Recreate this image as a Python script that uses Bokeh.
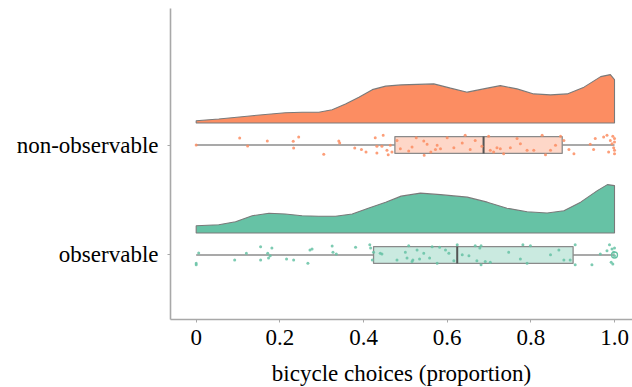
from bokeh.plotting import figure
from bokeh.models import Range1d, FixedTicker, CustomJSTickFormatter, ColumnDataSource
from bokeh.embed import file_html
from bokeh.resources import INLINE

# ---------------- data ----------------
categories = ["observable", "non-observable"]
colors = {"observable": "#66c2a5", "non-observable": "#fc8d62"}

# density curves (x, relative density)
dens_x_nonobs = [0.0, 0.054, 0.134, 0.213, 0.253, 0.293, 0.325, 0.357, 0.389, 0.421, 0.453, 0.490,
                 0.568, 0.608, 0.648, 0.696, 0.727, 0.767, 0.807, 0.847, 0.887, 0.927, 0.967, 0.990, 1.0]
dens_y_nonobs = [0.09, 0.16, 0.29, 0.41, 0.43, 0.43, 0.53, 0.76, 1.03, 1.33, 1.47, 1.52,
                 1.56, 1.39, 1.23, 1.39, 1.49, 1.36, 1.16, 1.12, 1.16, 1.43, 1.85, 1.93, 1.73]
dens_x_obs = [0.0, 0.054, 0.094, 0.134, 0.174, 0.213, 0.253, 0.293, 0.333, 0.373, 0.413, 0.453, 0.490,
              0.536, 0.584, 0.648, 0.696, 0.743, 0.791, 0.839, 0.879, 0.919, 0.959, 0.983, 1.0]
dens_y_obs = [0.29, 0.33, 0.45, 0.69, 0.79, 0.76, 0.69, 0.67, 0.67, 0.76, 1.00, 1.23, 1.47,
              1.59, 1.53, 1.43, 1.23, 0.99, 0.85, 0.80, 0.89, 1.23, 1.69, 1.93, 1.89]

# box-plot statistics
box_low = {"observable": 0.0, "non-observable": 0.0}
box_q1 = {"observable": 0.424, "non-observable": 0.475}
box_median = {"observable": 0.624, "non-observable": 0.687}
box_q3 = {"observable": 0.901, "non-observable": 0.875}
box_high = {"observable": 1.0, "non-observable": 1.0}
outliers_obs = [1.0]

# raw points (proportion) and vertical jitter (category units)
pts_nonobs = [0.0, 0.104, 0.123, 0.170, 0.232, 0.233, 0.245, 0.305, 0.341, 0.343, 0.379, 0.395, 0.406,
              0.428, 0.432, 0.432, 0.444, 0.447, 0.456, 0.459, 0.464, 0.468, 0.480, 0.488, 0.508,
              0.516, 0.526, 0.544, 0.545, 0.552, 0.561, 0.572, 0.576, 0.584, 0.600, 0.616, 0.636,
              0.643, 0.655, 0.667, 0.683, 0.699, 0.703, 0.711, 0.719, 0.727, 0.735, 0.751, 0.767,
              0.775, 0.791, 0.807, 0.827, 0.835, 0.847, 0.859, 0.871, 0.879, 0.891, 0.903, 0.942,
              0.950, 0.954, 0.974, 0.982, 0.986, 0.990, 0.994, 0.996, 0.998, 1.0, 1.0, 1.0, 1.0]
jit_nonobs = [0.0, 0.064, -0.009, 0.036, 0.033, -0.027, 0.073, -0.085, 0.036, 0.018, -0.027, -0.042, -0.064,
              0.067, -0.012, -0.073, -0.012, 0.088, -0.048, -0.088, -0.003, -0.064, 0.042, -0.033, -0.055,
              -0.018, 0.067, 0.036, -0.094, 0.006, -0.064, -0.042, -0.003, -0.033, 0.067, -0.024, 0.018,
              0.088, -0.042, 0.042, -0.012, 0.079, -0.048, -0.064, -0.024, -0.033, -0.079, -0.024, 0.058,
              0.012, -0.048, -0.048, 0.088, -0.088, -0.048, -0.003, 0.079, 0.042, -0.042, -0.079, 0.006,
              -0.042, 0.058, 0.073, 0.088, -0.064, 0.042, 0.012, 0.079, -0.024, 0.027, -0.048, 0.058, -0.079]
pts_obs = [0.0, 0.0, 0.006, 0.092, 0.120, 0.154, 0.154, 0.171, 0.173, 0.177, 0.181, 0.216, 0.233, 0.267,
           0.272, 0.277, 0.325, 0.327, 0.335, 0.381, 0.415, 0.417, 0.421, 0.424, 0.440, 0.444, 0.480,
           0.500, 0.504, 0.508, 0.516, 0.518, 0.528, 0.534, 0.544, 0.558, 0.564, 0.576, 0.582, 0.596,
           0.604, 0.616, 0.624, 0.636, 0.652, 0.667, 0.671, 0.678, 0.681, 0.681, 0.691, 0.703, 0.747,
           0.775, 0.781, 0.791, 0.799, 0.847, 0.867, 0.879, 0.894, 0.906, 0.906, 0.946, 0.966, 0.982,
           0.988, 0.992, 0.994, 0.996, 0.998, 1.0, 1.0]
jit_obs = [-0.088, -0.076, 0.018, -0.045, 0.015, 0.076, -0.045, 0.015, -0.027, -0.006, 0.064, -0.036, -0.045, -0.076,
           0.045, 0.055, 0.082, 0.024, 0.009, 0.070, 0.094, 0.064, -0.045, 0.024, 0.015, 0.009, -0.045,
           0.024, -0.027, 0.085, -0.058, -0.045, 0.045, -0.036, 0.015, -0.027, 0.076, -0.076, 0.070, 0.045,
           0.015, -0.052, 0.094, 0.003, -0.006, 0.085, -0.052, 0.064, 0.085, -0.088, -0.058, -0.067, 0.024,
           -0.036, 0.094, -0.076, 0.085, 0.003, 0.045, -0.045, -0.045, 0.094, -0.088, -0.088, 0.009, 0.039,
           0.094, -0.067, 0.055, -0.082, 0.024, 0.064, -0.006]

x_ticks = [0, 0.2, 0.4, 0.6, 0.8, 1.0]
x_label = "bicycle choices (proportion)"

# ---------------- layout/style ----------------
FONT = "Liberation Serif"
cat_pos = {"observable": 1, "non-observable": 2}
DENS_OFFSET = 0.2
DENS_HEIGHT = 0.44
BOX_HALF = 0.077

p = figure(frame_width=462, frame_height=311, output_backend="svg", toolbar_location=None,
           x_range=Range1d(-0.0614, 1.043), y_range=Range1d(0.4136, 3.241),
           min_border_left=170, min_border_right=0, min_border_top=8, min_border_bottom=60)
p.outline_line_color = None
p.grid.visible = False
p.background_fill_color = "white"

dens = {"observable": (dens_x_obs, dens_y_obs), "non-observable": (dens_x_nonobs, dens_y_nonobs)}
pts = {"observable": (pts_obs, jit_obs), "non-observable": (pts_nonobs, jit_nonobs)}

for cat in categories:
    c = colors[cat]
    yc = cat_pos[cat]
    dx, dy = dens[cat]
    m = max(dy)
    base = yc + DENS_OFFSET
    xs = [dx[0]] + list(dx) + [dx[-1]]
    ys = [base] + [base + v / m * DENS_HEIGHT for v in dy] + [base]
    p.patch(xs, ys, fill_color=c, fill_alpha=1.0, line_color="#7a7a7a", line_width=1.1)

    # whiskers
    p.segment(x0=[box_low[cat], box_q3[cat]], y0=[yc, yc], x1=[box_q1[cat], box_high[cat]], y1=[yc, yc],
              line_color="#8c8c8c", line_width=1.3)
    # box
    p.quad(left=[box_q1[cat]], right=[box_q3[cat]], bottom=[yc - BOX_HALF], top=[yc + BOX_HALF],
           fill_color=c, fill_alpha=0.35, line_color="#8a8a8a", line_width=1.3)
    # median
    p.segment(x0=[box_median[cat]], y0=[yc - BOX_HALF], x1=[box_median[cat]], y1=[yc + BOX_HALF],
              line_color="#555555", line_width=2)
    # points
    px, pj = pts[cat]
    src = ColumnDataSource(dict(x=px, y=[yc + j for j in pj]))
    p.scatter("x", "y", source=src, size=3, fill_color=c, line_color=None, fill_alpha=0.85)

p.scatter(outliers_obs, [cat_pos["observable"]] * len(outliers_obs), size=6, fill_color=None,
          line_color=colors["observable"], line_width=1.3)

# axes
for ax in (p.xaxis[0], p.yaxis[0]):
    ax.axis_line_color = "#a8a8a8"
    ax.axis_line_width = 1.6
    ax.major_tick_line_color = "#a8a8a8"
    ax.major_tick_out = 3
    ax.major_tick_in = 0
    ax.minor_tick_line_color = None
    ax.major_label_text_font = FONT
    ax.major_label_text_font_size = "23px"
    ax.major_label_text_color = "black"

p.xaxis.ticker = FixedTicker(ticks=x_ticks)
p.xaxis.formatter = CustomJSTickFormatter(code="return tick == 0 ? '0' : tick.toFixed(1);")
p.xaxis.major_label_standoff = 7
p.xaxis.axis_label = x_label
p.xaxis.axis_label_text_font = FONT
p.xaxis.axis_label_text_font_size = "23px"
p.xaxis.axis_label_text_font_style = "normal"
p.xaxis.axis_label_text_color = "black"
p.xaxis.axis_label_standoff = 13

p.yaxis.ticker = FixedTicker(ticks=[cat_pos[c] for c in categories])
p.yaxis.major_label_overrides = {cat_pos[c]: c for c in categories}
p.yaxis.major_label_standoff = 9

open("out.html", "w").write(file_html(p, INLINE))
